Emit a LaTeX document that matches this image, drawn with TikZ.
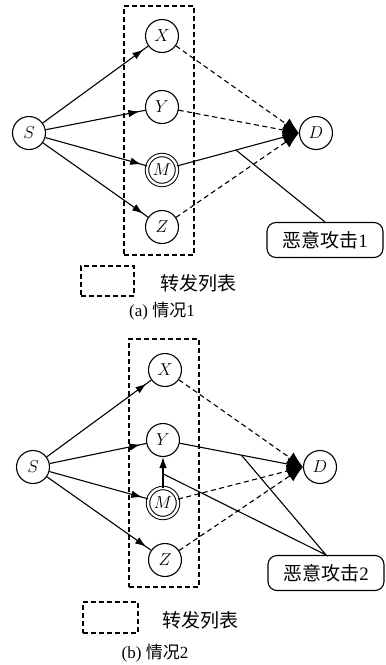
\documentclass[tikz,border=0pt]{standalone}
\usepackage{fontspec}
\setmainfont{Liberation Serif}
\newfontfamily\cjk{Noto Sans CJK SC}
\usetikzlibrary{arrows.meta,calc,decorations.markings}
\begin{document}
\begin{tikzpicture}[x=1pt,y=-1pt,
  every node/.style={inner sep=0pt},
  nd/.style={draw,circle,line width=1.1pt,minimum size=33pt,font=\fontsize{18}{18}\selectfont\itshape},
  mal/.style={draw,circle,line width=1pt,double,double distance=2.4pt,minimum size=30pt,font=\fontsize{18}{18}\selectfont\itshape},
  fwd/.style={draw,line width=1.1pt,dash pattern=on 5pt off 3pt,minimum width=#1},
  lnk/.style={line width=1.1pt,postaction={decorate},
    decoration={markings,mark=at position -6pt with {\arrow{Latex[length=11pt,width=7.5pt]}}}},
  tod/.style={line width=1.1pt,-{Latex[length=16pt,width=13pt]}},
  dsh/.style={dash pattern=on 5pt off 3.5pt},
  atk/.style={draw,rounded corners=9pt,line width=1.1pt,minimum width=116pt,minimum height=35pt,font=\fontsize{19}{19}\selectfont},
  txt/.style={font=\fontsize{19}{19}\selectfont},
  captxt/.style={font=\fontsize{17}{17}\selectfont}]
\useasboundingbox (0,0) rectangle (386,665);
% ---------- panel (a) ----------
\node[fwd=70pt,minimum height=249pt] (fa) at (159,130.5) {};
\node[nd] (Sa) at (29,133) {$S$};
\node[nd] (Xa) at (162,36) {$X$};
\node[nd] (Ya) at (162,107) {$Y$};
\node[mal] (Ma) at (162,170) {$M$};
\node[nd] (Za) at (162,227) {$Z$};
\node[nd] (Da) at (316,133) {$D$};
\draw[lnk] (Sa) -- (Xa);
\draw[lnk] (Sa) -- (Ya);
\draw[lnk] (Sa) -- (Ma);
\draw[lnk] (Sa) -- (Za);
\draw[tod,dsh] (Xa) -- (Da.west);
\draw[tod,dsh] (Ya) -- (Da.west);
\draw[tod] (Ma) -- (Da.west);
\draw[tod,dsh] (Za) -- (Da.west);
\node[atk] (Aa) at (325,240) {\cjk 恶意攻击\rmfamily 1};
\coordinate (pa) at ($(Ma)!0.54!(Da.west)$);
\draw[line width=1.1pt] (Aa.north) -- (pa);
\node[fwd=53pt,minimum height=30pt] (la) at (107.5,281) {};
\node[txt] (ta) at (198,283) {\cjk 转发列表};
\node[captxt] (ca) at (162,311) {(a) {\cjk 情况}1};
% ---------- panel (b) ----------
\node[fwd=70pt,minimum height=248pt] (fb) at (164,463) {};
\node[nd] (Sb) at (33,467) {$S$};
\node[nd] (Xb) at (165,370) {$X$};
\node[nd] (Yb) at (163,440) {$Y$};
\node[mal] (Mb) at (163,503) {$M$};
\node[nd] (Zb) at (165,560) {$Z$};
\node[nd] (Db) at (320,467) {$D$};
\draw[lnk] (Sb) -- (Xb);
\draw[lnk] (Sb) -- (Yb);
\draw[lnk] (Sb) -- (Mb);
\draw[lnk] (Sb) -- (Zb);
\draw[line width=1.1pt,-{Latex[length=11pt,width=7.5pt]}] (Mb) -- (Yb);
\draw[tod,dsh] (Xb) -- (Db.west);
\draw[tod] (Yb) -- (Db.west);
\draw[tod,dsh] (Mb) -- (Db.west);
\draw[tod,dsh] (Zb) -- (Db.west);
\node[atk] (Ab) at (326,573) {\cjk 恶意攻击\rmfamily 2};
\coordinate (pb) at ($(Yb)!0.56!(Db.west)$);
\coordinate (qb) at ($(Mb.north)!0.45!(Yb.south)$);
\draw[line width=1.1pt] (pb) -- (Ab.north) -- (qb);
\node[fwd=55pt,minimum height=31pt] (lb) at (110.5,617.5) {};
\node[txt] (tb) at (200,620) {\cjk 转发列表};
\node[captxt] (cb) at (155,653) {(b) {\cjk 情况}2};
\end{tikzpicture}
\end{document}
